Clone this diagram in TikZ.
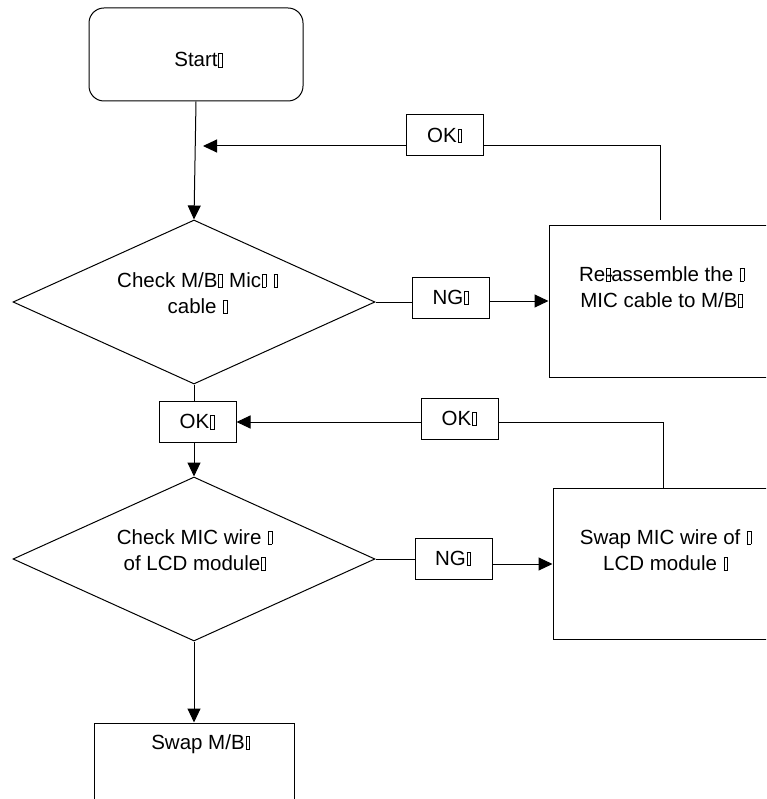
\documentclass[tikz,border=0pt]{standalone}
\usepackage{fontspec}
\setmainfont{Liberation Sans}
\usetikzlibrary{shapes.geometric,arrows.meta}
\newcommand{\tofu}{\kern0.8pt{\setlength{\fboxsep}{0pt}\setlength{\fboxrule}{0.6pt}\fbox{\rule{0pt}{13pt}\kern3.2pt}}\kern0.8pt}
\newcommand{\hyptofu}{\makebox[0pt][l]{\kern1pt-}\tofu}
\begin{document}
\begin{tikzpicture}[x=1pt,y=-1pt,line width=1pt,
  >={Triangle[length=14pt,width=13pt]},
  box/.style={draw,rectangle,inner sep=0pt},
  lbl/.style={font=\fontsize{20.5}{26}\selectfont,align=center,inner sep=0pt},
  dia/.style={draw,diamond,aspect=2.2,inner sep=0pt,minimum width=362pt,minimum height=164pt},
  tag/.style={draw,rectangle,minimum width=77pt,minimum height=41pt,inner sep=0pt,font=\fontsize{20.5}{26}\selectfont}]
\clip (0,0) rectangle (766,799);
% shapes
\node[box,rounded corners=15pt,minimum width=214pt,minimum height=93pt] (start) at (196,54.5) {};
\node[lbl] (tstart) at (199,60) {Start\tofu};
\node[tag] (ok1) at (445,135.5) {OK\tofu};
\node[dia] (d1) at (194,302) {};
\node[lbl] (td1) at (198,293) {Check M/B\tofu{} Mic\tofu{} \tofu\\cable \tofu};
\node[tag] (ng1) at (451,297.5) {NG\tofu};
\node[box,minimum width=251pt,minimum height=151pt] (re) at (674.5,301.5) {};
\node[lbl] (tre) at (662,287) {Re\hyptofu assemble the \tofu\\MIC cable to M/B\tofu};
\node[tag] (ok2) at (197.5,422) {OK\tofu};
\node[tag] (ok3) at (459.5,418.5) {OK\tofu};
\node[dia] (d2) at (194,559) {};
\node[lbl] (td2) at (195,550) {Check MIC wire \tofu\\of LCD module\tofu};
\node[tag] (ng2) at (453.5,558.5) {NG\tofu};
\node[box,minimum width=247pt,minimum height=151pt] (sw) at (676.5,563.5) {};
\node[lbl] (tsw) at (666,550) {Swap MIC wire of \tofu\\LCD module \tofu};
\node[box,minimum width=200pt,minimum height=117pt] (swmb) at (194,781.5) {};
\node[lbl] (tswmb) at (201,744) {Swap M/B\tofu};
% helper coordinates
\coordinate (c1) at (660,220);
\coordinate (c2) at (203,146);
\coordinate (n1) at (0,301);
\coordinate (c3) at (663,0);
\coordinate (n2) at (0,564);
% connectors
\draw[->] (start.south) -- (d1.north);
\draw (c1) |- (ok1.east |- c2);
\draw[->] (ok1.west |- c2) -- (c2);
\draw (d1.east) -- (d1.east -| ng1.west);
\draw[->] (ng1.east |- n1) -- (re.west |- n1);
\draw (d1.south) -- (d1.south |- ok2.north);
\draw (sw.north -| c3) |- (ok3.east |- ok2.east);
\draw[->] (ok3.west |- ok2.east) -- (ok2.east);
\draw[->] (d2.north |- ok2.south) -- (d2.north);
\draw (d2.east) -- (d2.east -| ng2.west);
\draw[->] (ng2.east |- n2) -- (sw.west |- n2);
\draw[->] (d2.south) -- (swmb.north);
\end{tikzpicture}
\end{document}
